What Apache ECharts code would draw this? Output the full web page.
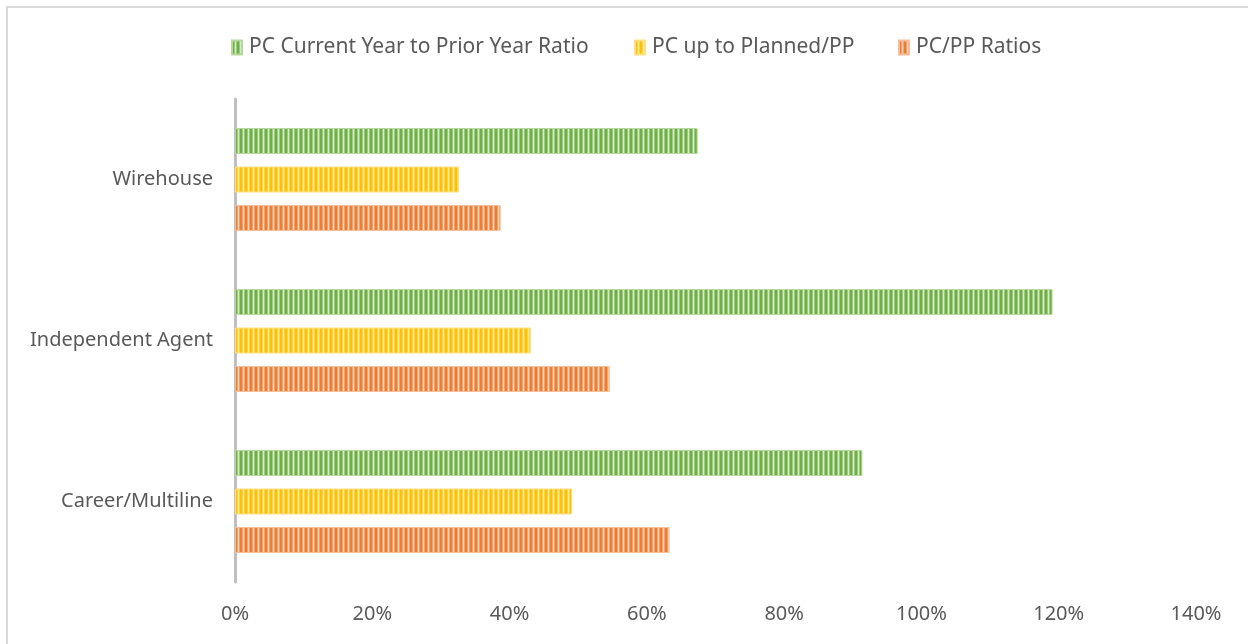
<!DOCTYPE html>
<html>
<head>
<meta charset="utf-8">
<script src="https://cdn.jsdelivr.net/npm/echarts@6/dist/echarts.min.js"></script>
<style>
  html, body { margin: 0; padding: 0; background: #fff; }
  #main { width: 1248px; height: 644px; }
</style>
</head>
<body>
<div id="main"></div>
<script>
// categories bottom -> top (category axis runs upward)
var categories = ['Career/Multiline', 'Independent Agent', 'Wirehouse'];
var seriesNames = ['PC Current Year to Prior Year Ratio', 'PC up to Planned/PP', 'PC/PP Ratios'];
var currentToPrior = [0.914, 1.191, 0.674];
var upToPlanned = [0.491, 0.431, 0.326];
var pcPpRatios = [0.633, 0.546, 0.387];
var xTicks = [0, 0.2, 0.4, 0.6, 0.8, 1.0, 1.2, 1.4];

// vertical stripe fill like the excel pattern
function stripe(dark, mid, light) {
  var c = document.createElement('canvas');
  c.width = 5; c.height = 8;
  var ctx = c.getContext('2d');
  ctx.fillStyle = dark; ctx.fillRect(0, 0, 5, 8);
  ctx.fillStyle = mid; ctx.fillRect(2, 0, 1, 8);
  ctx.fillStyle = light; ctx.fillRect(3, 0, 1, 8);
  ctx.fillStyle = mid; ctx.fillRect(4, 0, 1, 8);
  return { image: c, repeat: 'repeat' };
}

var fills = [
  stripe('#70AD47', '#9DCB80', '#D6EBC8'),
  stripe('#FFC000', '#FFD347', '#FFEBA6'),
  stripe('#ED7D31', '#F3A26D', '#FAD6BE')
];
var borders = ['#B5D99C', '#FFDF80', '#F6BE98'];
var values = [currentToPrior, upToPlanned, pcPpRatios];
var legendLeft = [226, 629, 893];

var chart = echarts.init(document.getElementById('main'), null, { renderer: 'canvas' });

var series = [];
var legends = [];
for (var i = 0; i < seriesNames.length; i++) {
  series.push({
    name: seriesNames[i],
    type: 'bar',
    data: values[i],
    barWidth: 26,
    barGap: '48%',
    itemStyle: { color: fills[i], borderColor: borders[i], borderWidth: 1 }
  });
  legends.push({
    top: 32,
    left: legendLeft[i],
    itemWidth: 10,
    itemHeight: 14,
    icon: 'rect',
    textStyle: { color: '#595959', fontSize: 21, fontFamily: 'Noto Sans', padding: [0, 0, 0, 2] },
    data: [seriesNames[i]]
  });
}

var option = {
  animation: false,
  backgroundColor: '#fff',
  graphic: [{
    type: 'rect',
    shape: { x: 7, y: 7, width: 1300, height: 700 },
    style: { fill: 'none', stroke: '#D9D9D9', lineWidth: 2 },
    silent: true
  }],
  legend: legends,
  grid: { left: 235, right: 52, top: 99, bottom: 62, containLabel: false },
  xAxis: {
    type: 'value',
    min: 0,
    max: 1.4,
    interval: 0.2,
    axisLine: { show: false },
    axisTick: { show: false },
    splitLine: { show: false },
    axisLabel: {
      color: '#595959',
      fontSize: 20,
      fontFamily: 'Noto Sans',
      margin: 22,
      formatter: function (v) { return Math.round(v * 100) + '%'; }
    }
  },
  yAxis: {
    type: 'category',
    data: categories,
    axisLine: { show: true, lineStyle: { color: '#BFBFBF', width: 3 } },
    axisTick: { show: false },
    axisLabel: { color: '#595959', fontSize: 20, fontFamily: 'Noto Sans', margin: 22 }
  },
  series: series
};

chart.setOption(option);
</script>
</body>
</html>
